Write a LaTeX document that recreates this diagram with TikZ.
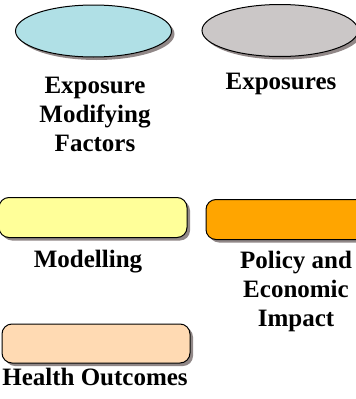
\documentclass[tikz,border=0pt]{standalone}
\usepackage{fontspec}
\setmainfont{Liberation Serif}
\usetikzlibrary{shapes.geometric,shadows}
\definecolor{cblue}{HTML}{B0E0E6}
\definecolor{cgray}{HTML}{CBC7C7}
\definecolor{cyellow}{HTML}{FFFF99}
\definecolor{corange}{HTML}{FFA500}
\definecolor{cpeach}{HTML}{FFDAB3}
\definecolor{cshadow}{HTML}{857B7B}
\begin{document}
\begin{tikzpicture}[x=1pt,y=-1pt,
  shadowed/.style={draw=black, line width=1pt,
    drop shadow={shadow xshift=3pt, shadow yshift=-3pt, fill=cshadow, opacity=0.9}},
  oval/.style={shadowed, ellipse, inner sep=0pt, minimum width=156pt, minimum height=52pt},
  bar/.style={shadowed, rectangle, rounded corners=10pt, inner sep=0pt, minimum width=188pt, minimum height=40pt},
  lbl/.style={font=\fontsize{25}{29}\selectfont\bfseries, align=center, inner sep=0pt, anchor=base}]
\useasboundingbox (0,0) rectangle (356,399);
\node[oval, fill=cblue] (emf) at (93.5,31) {};
\node[oval, fill=cgray] (exp) at (280,30.5) {};
\node[bar, fill=cyellow] (mod) at (93,217.5) {};
\node[bar, fill=corange] (pol) at (300,219.5) {};
\node[bar, fill=cpeach, minimum height=39pt] (hea) at (96,343.5) {};
\node[lbl] (emft) at (95,151) {Exposure\\Modifying\\Factors};
\node[lbl] (expt) at (281,89) {Exposures};
\node[lbl] (modt) at (88,267) {Modelling};
\node[lbl] (polt) at (296,326) {Policy and\\Economic\\Impact};
\node[lbl] (heat) at (95,385) {Health Outcomes};
\end{tikzpicture}
\end{document}
